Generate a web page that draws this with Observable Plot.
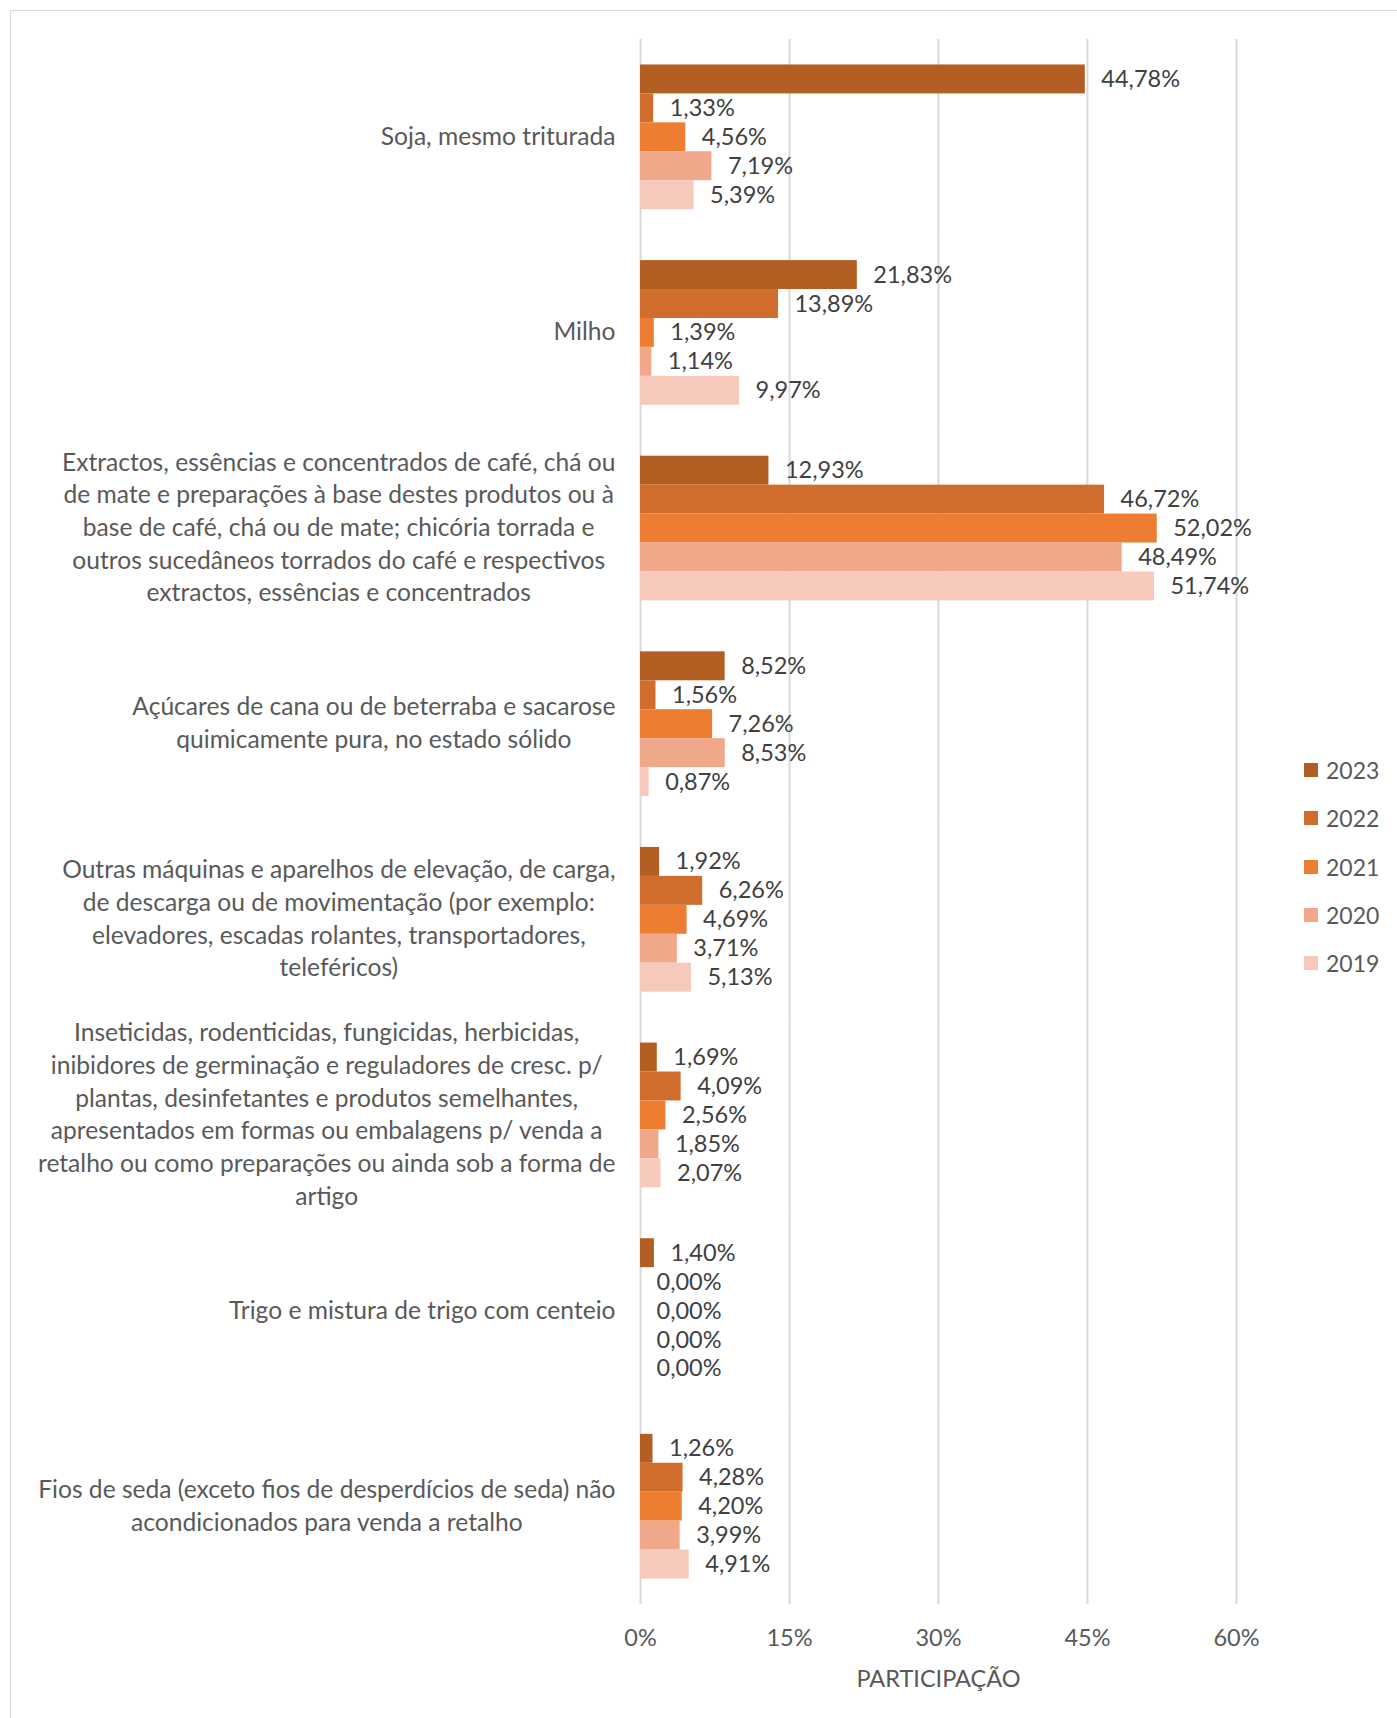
<!DOCTYPE html>
<html>
<head>
<meta charset="utf-8">
<script src="https://cdn.jsdelivr.net/npm/d3@7"></script>
<script src="https://cdn.jsdelivr.net/npm/@observablehq/plot@0.6"></script>
<style>
  html, body { margin: 0; padding: 0; background: #fff; overflow: hidden; }
  #wrap { position: relative; width: 1397px; height: 1718px; font-family: Lato, "Open Sans", sans-serif; }
  #frame { position: absolute; left: 10px; top: 10px; width: 1500px; height: 1800px;
           border-left: 1.5px solid #d9d9d9; border-top: 1.5px solid #d9d9d9; pointer-events: none; }
  #chart { position: absolute; left: 0; top: 0; }
  #legend { position: absolute; left: 1304px; top: 746px; }
  .item { display: flex; align-items: center; height: 48.3px; font-size: 23px; color: #595959; }
  .sw { width: 14px; height: 14px; margin-right: 8px; }
</style>
</head>
<body>
<div id="wrap">
  <div id="frame"></div>
  <div id="chart"></div>
  <div id="legend"></div>
</div>
<script>
const categories = [
  "Soja, mesmo triturada",
  "Milho",
  "Extractos, essências e concentrados de café, chá ou de mate e preparações à base destes produtos ou à base de café, chá ou de mate; chicória torrada e outros sucedâneos torrados do café e respectivos extractos, essências e concentrados",
  "Açúcares de cana ou de beterraba e sacarose quimicamente pura, no estado sólido",
  "Outras máquinas e aparelhos de elevação, de carga, de descarga ou de movimentação (por exemplo: elevadores, escadas rolantes, transportadores, teleféricos)",
  "Inseticidas, rodenticidas, fungicidas, herbicidas, inibidores de germinação e reguladores de cresc. p/ plantas, desinfetantes e produtos semelhantes, apresentados em formas ou embalagens p/ venda a retalho ou como preparações ou ainda sob a forma de artigo",
  "Trigo e mistura de trigo com centeio",
  "Fios de seda (exceto fios de desperdícios de seda) não acondicionados para venda a retalho"
];
const categoryLabels = [
  "Soja, mesmo triturada",
  "Milho",
  "Extractos, essências e concentrados de café, chá ou\nde mate e preparações à base destes produtos ou à\nbase de café, chá ou de mate; chicória torrada e\noutros sucedâneos torrados do café e respectivos\nextractos, essências e concentrados",
  "Açúcares de cana ou de beterraba e sacarose\nquimicamente pura, no estado sólido",
  "Outras máquinas e aparelhos de elevação, de carga,\nde descarga ou de movimentação (por exemplo:\nelevadores, escadas rolantes, transportadores,\nteleféricos)",
  "Inseticidas, rodenticidas, fungicidas, herbicidas,\ninibidores de germinação e reguladores de cresc. p/\nplantas, desinfetantes e produtos semelhantes,\napresentados em formas ou embalagens p/ venda a\nretalho ou como preparações ou ainda sob a forma de\nartigo",
  "Trigo e mistura de trigo com centeio",
  "Fios de seda (exceto fios de desperdícios de seda) não\nacondicionados para venda a retalho"
];
const years = ["2023", "2022", "2021", "2020", "2019"];
const colors = ["#B35E22", "#D06D2C", "#ED7D31", "#F1A88A", "#F6C9BA"];
const v2023 = [44.78, 21.83, 12.93, 8.52, 1.92, 1.69, 1.40, 1.26];
const v2022 = [1.33, 13.89, 46.72, 1.56, 6.26, 4.09, 0.00, 4.28];
const v2021 = [4.56, 1.39, 52.02, 7.26, 4.69, 2.56, 0.00, 4.20];
const v2020 = [7.19, 1.14, 48.49, 8.53, 3.71, 1.85, 0.00, 3.99];
const v2019 = [5.39, 9.97, 51.74, 0.87, 5.13, 2.07, 0.00, 4.91];
const xTicks = [0, 15, 30, 45, 60];
const xLabel = "PARTICIPAÇÃO";

const series = [v2023, v2022, v2021, v2020, v2019];
const data = [];
categories.forEach((c, i) => {
  years.forEach((y, j) => data.push({category: c, year: y, value: series[j][i]}));
});
const labelOf = new Map(categories.map((c, i) => [c, categoryLabels[i]]));
const fmt = v => d3.format(".2f")(v).replace(".", ",") + "%";

const chart = Plot.plot({
  width: 1397,
  height: 1718,
  marginLeft: 640,
  marginRight: 161,
  marginTop: 39,
  marginBottom: 114,
  style: {fontFamily: "Lato, 'Open Sans', sans-serif", fontSize: "23px", color: "#595959", background: "transparent"},
  x: {domain: [0, 60]},
  y: {domain: years, paddingInner: 0, paddingOuter: 0.88, round: false, axis: null},
  fy: {domain: categories, padding: 0, round: false},
  color: {domain: years, range: colors},
  marks: [
    Plot.gridX(xTicks, {stroke: "#d9d9d9", strokeOpacity: 1, strokeWidth: 2}),
    Plot.barX(data, {x: "value", y: "year", fy: "category", fill: "year"}),
    Plot.text(data, {x: "value", y: "year", fy: "category", text: d => fmt(d.value),
      textAnchor: "start", dx: 16, fontSize: 23.5, fill: "#404040"}),
    Plot.axisX({anchor: "bottom", ticks: xTicks, tickFormat: d => d + "%", tickSize: 0, tickPadding: 25,
      fontSize: 23.5, fill: "#595959", label: xLabel, labelAnchor: "center", labelArrow: "none", labelOffset: 82}),
    Plot.axisFy({anchor: "left", tickSize: 0, tickPadding: 25, tickFormat: d => labelOf.get(d),
      textAnchor: "middle", lineHeight: 1.33, fontSize: 24.6, dy: -3, fill: "#595959", label: null})
  ]
});
document.getElementById("chart").appendChild(chart);

// center each multi-line label block so its widest line ends at the tick position
chart.querySelectorAll('[aria-label="fy-axis tick label"] text').forEach(t => {
  const w = t.getBBox().width;
  const prev = t.getAttribute("transform") || "";
  t.setAttribute("transform", prev + ` translate(${-w / 2},0)`);
});

const legend = document.getElementById("legend");
years.forEach((y, i) => {
  const it = document.createElement("div");
  it.className = "item";
  it.innerHTML = `<div class="sw" style="background:${colors[i]}"></div><span>${y}</span>`;
  legend.appendChild(it);
});
</script>
</body>
</html>
